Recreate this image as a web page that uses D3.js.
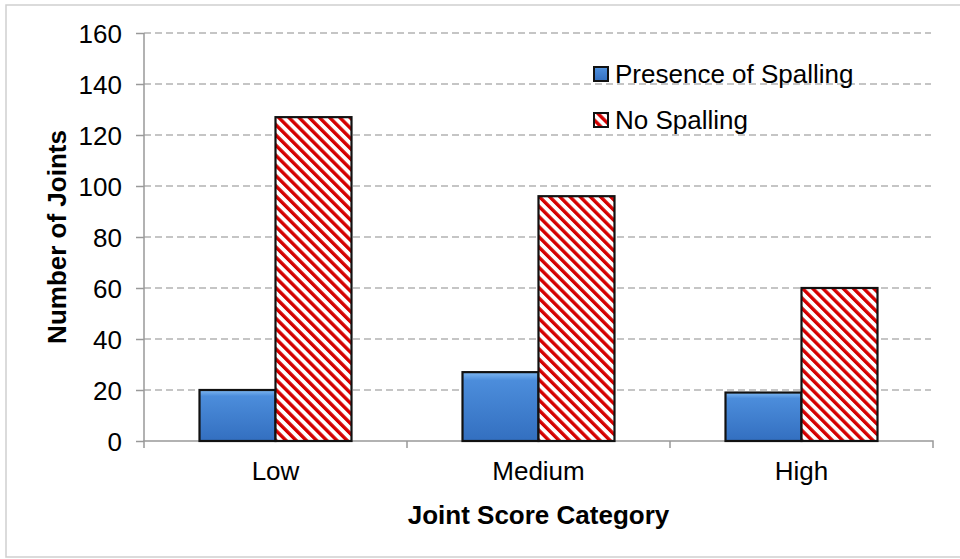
<!DOCTYPE html>
<html><head><meta charset="utf-8">
<script src="https://cdn.jsdelivr.net/npm/d3@7"></script>
<style>body{margin:0;background:#fff}svg{display:block}text{font-family:"Liberation Sans",Arial,sans-serif;fill:#000}</style>
</head><body><svg id="c" width="960" height="559"></svg>
<script>
const categories = ["Low", "Medium", "High"];
const seriesNames = ["Presence of Spalling", "No Spalling"];
const presence = [20, 27, 19];
const noSpalling = [127, 96, 60];
const yTicks = [0, 20, 40, 60, 80, 100, 120, 140, 160];

const svg = d3.select("#c");
const m = {l:144, r:933, t:33, b:441};
const defs = svg.append("defs");
const g = defs.append("linearGradient").attr("id","blue").attr("x1",0).attr("y1",0).attr("x2",0).attr("y2",1);
g.append("stop").attr("offset","0%").attr("stop-color","#7fb8f2");
g.append("stop").attr("offset","12%").attr("stop-color","#4c8ddb");
g.append("stop").attr("offset","100%").attr("stop-color","#336fc0");
const p = defs.append("pattern").attr("id","hatch").attr("patternUnits","userSpaceOnUse")
  .attr("width",7.2).attr("height",7.2).attr("patternTransform","rotate(-45)");
p.append("rect").attr("width",7.2).attr("height",7.2).attr("fill","#fff");
p.append("rect").attr("width",3.4).attr("height",7.2).attr("fill","#d40000");

// outer frame
svg.append("rect").attr("x",6).attr("y",5).attr("width",1000).attr("height",552)
  .attr("fill","none").attr("stroke","#cfcfcf").attr("stroke-width",1.5);

const y = d3.scaleLinear().domain([0,160]).range([m.b, m.t]);
const x0 = d3.scaleBand().domain(categories).range([m.l, m.r]);
const x1 = d3.scaleBand().domain(seriesNames).range([0, 152]);

// grid
svg.append("g").selectAll("line").data(yTicks.filter(d=>d>0)).join("line")
  .attr("x1",m.l).attr("x2",m.r-2).attr("y1",d=>y(d)).attr("y2",d=>y(d))
  .attr("stroke","#b3b3b3").attr("stroke-width",1.5).attr("stroke-dasharray","7,4");

// y axis
const ya = svg.append("g").attr("transform",`translate(${m.l},0)`)
  .call(d3.axisLeft(y).tickValues(yTicks).tickSize(8).tickPadding(14));
ya.select(".domain").attr("stroke","#999").attr("stroke-width",1.5).attr("d",`M0,${m.t}V${m.b}`);
ya.selectAll(".tick line").attr("stroke","#999").attr("stroke-width",1.5);
ya.selectAll(".tick text").attr("font-size",26).attr("fill","#000").attr("dy","0.35em");

// x axis
const xa = svg.append("g").attr("transform",`translate(0,${m.b})`)
  .call(d3.axisBottom(x0).tickSize(0).tickPadding(23));
xa.select(".domain").attr("stroke","#999").attr("stroke-width",1.5).attr("d",`M${m.l},7V0H${m.r}V7`);
xa.selectAll(".tick text").attr("font-size",26).attr("fill","#000").attr("dy","0.6em");
xa.append("g").selectAll("line").data(categories.slice(1)).join("line")
  .attr("x1",d=>x0(d)).attr("x2",d=>x0(d)).attr("y1",0).attr("y2",7)
  .attr("stroke","#999").attr("stroke-width",1.5);

// bars
const rows = categories.map((c,i)=>({c, vals:[presence[i], noSpalling[i]]}));
const grp = svg.append("g").selectAll("g").data(rows).join("g")
  .attr("transform",d=>`translate(${x0(d.c)+(x0.bandwidth()-152)/2},0)`);
grp.selectAll("rect").data(d=>d.vals.map((v,j)=>({v,s:seriesNames[j],j}))).join("rect")
  .attr("x",d=>x1(d.s)).attr("width",x1.bandwidth())
  .attr("y",d=>y(d.v)).attr("height",d=>y(0)-y(d.v))
  .attr("fill",d=>d.j===0?"url(#blue)":"url(#hatch)")
  .attr("stroke","#111").attr("stroke-width",2.2);

// legend
const lg = svg.append("g").attr("transform","translate(594,0)");
const ly = [74, 120];
seriesNames.forEach((s,i)=>{
  lg.append("rect").attr("x",0).attr("y",ly[i]-7).attr("width",14).attr("height",14)
    .attr("fill",i===0?"url(#blue)":"url(#hatch)").attr("stroke","#111").attr("stroke-width",2);
  lg.append("text").attr("x",21).attr("y",ly[i]).attr("dy","0.35em").attr("font-size",26).text(s);
});

// titles
svg.append("text").attr("x",(m.l+m.r)/2).attr("y",515).attr("dy","0.35em").attr("text-anchor","middle")
  .attr("font-size",26).attr("font-weight","bold").text("Joint Score Category");
svg.append("text").attr("transform","translate(57,237) rotate(-90)").attr("dy","0.35em").attr("text-anchor","middle")
  .attr("font-size",26).attr("font-weight","bold").text("Number of Joints");
</script></body></html>
